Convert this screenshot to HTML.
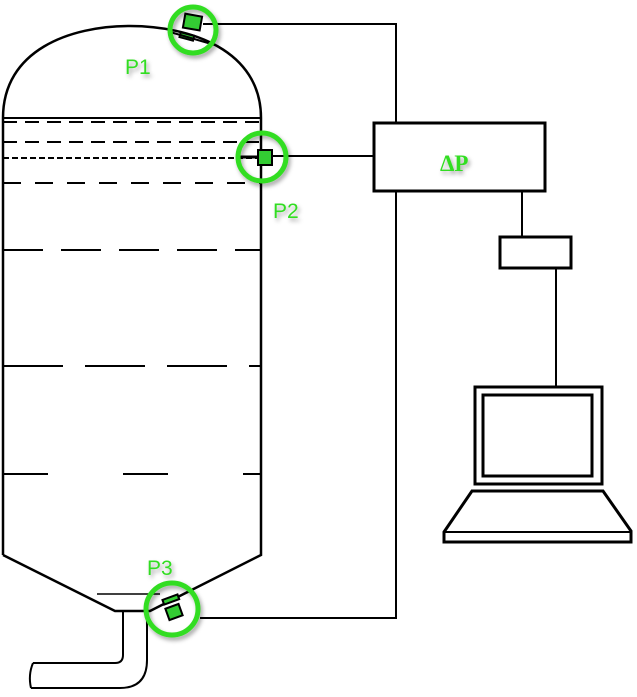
<!DOCTYPE html>
<html><head><style>body{margin:0;background:#fff}svg{display:block}</style></head><body>
<svg width="637" height="697" viewBox="0 0 637 697" xmlns="http://www.w3.org/2000/svg">
<defs><filter id="sh" x="-30%" y="-30%" width="160%" height="160%"><feDropShadow dx="2" dy="3" stdDeviation="2" flood-color="#000" flood-opacity="0.35"/></filter></defs>
<g fill="none" stroke="#000" stroke-width="2.5">
<path d="M3,555 L3,118 C3,50 70,26 130,26 C190,26 261,50 261,118 L261,555 L150,611 L115,611 L3,555"/>
<line x1="3" y1="118" x2="261" y2="118" stroke-width="2"/>
</g>
<g stroke="#000" stroke-width="2" stroke-dasharray="14,8" fill="none">
<line x1="3" y1="122" x2="261" y2="122"/>
<line x1="3" y1="142" x2="261" y2="142"/>
<line x1="3" y1="158" x2="261" y2="158" stroke-dasharray="6,3"/>
<line x1="3" y1="183" x2="261" y2="183" stroke-dasharray="18,14"/>
<line x1="3" y1="250" x2="261" y2="250" stroke-dasharray="40,18"/>
<line x1="3" y1="366" x2="261" y2="366" stroke-dasharray="60,22"/>
<line x1="3" y1="474" x2="261" y2="474" stroke-dasharray="45,75"/>
</g>
<g fill="none" stroke="#000" stroke-width="2">
<line x1="97" y1="594" x2="160" y2="594" stroke-width="1.5"/>
<path d="M123,611 L123,655 Q123,663 115,663 L33,663"/>
<path d="M147,611 L147,660 Q147,688 120,688 L31,688"/>
<path d="M33,663 Q28,675 31,688"/>
<polyline points="203,24 396,24 396,123" stroke-width="2"/>
<polyline points="396,191 396,618 200,618" stroke-width="2"/>
<line x1="262" y1="156" x2="374" y2="156" stroke-width="2"/>
<line x1="522" y1="191" x2="522" y2="237" stroke-width="2"/>
<line x1="556" y1="268" x2="556" y2="387" stroke-width="2"/>
<rect x="374" y="123" width="171" height="68" stroke-width="3"/>
<rect x="500" y="237" width="71" height="31" stroke-width="3"/>
<rect x="475" y="387" width="127" height="97" stroke-width="3"/>
<rect x="483" y="395" width="109" height="81" stroke-width="3"/>
<path d="M472,491 L603,491 L631,531 L631,542 L444,542 L444,532 Z" stroke-width="3"/>
<line x1="444" y1="532" x2="631" y2="532" stroke-width="2"/>
</g>
<g stroke="#000" stroke-width="2">
<rect x="184" y="15" width="17" height="14" fill="#3c3" transform="rotate(10 192 22)"/>
<rect x="180" y="34" width="14" height="5" fill="#3c3" transform="rotate(15 187 36)"/>
<line x1="170" y1="32" x2="215" y2="45"/>
<rect x="258" y="150" width="14" height="15" fill="#3c3"/>
<line x1="240" y1="157" x2="258" y2="157" stroke-width="3"/>
<rect x="163" y="597" width="16" height="5" fill="#3c3" transform="rotate(-20 171 600)"/>
<rect x="167" y="606" width="14" height="12" fill="#3c3" transform="rotate(-20 174 612)"/>
</g>
<g fill="none" stroke="#33dd22" stroke-width="5" filter="url(#sh)">
<circle cx="193" cy="30" r="23"/>
<circle cx="262" cy="157" r="24"/>
<circle cx="172" cy="609" r="26"/>
</g>
<g font-family="Liberation Sans, sans-serif" font-size="21" fill="#33dd22" filter="url(#sh)">
<text x="125" y="74">P1</text>
<text x="273" y="218">P2</text>
<text x="147" y="575">P3</text>
</g>
<text x="440" y="171" font-family="Liberation Serif, serif" font-weight="bold" font-size="23" fill="#33dd22" filter="url(#sh)">ΔP</text>
</svg>
</body></html>
